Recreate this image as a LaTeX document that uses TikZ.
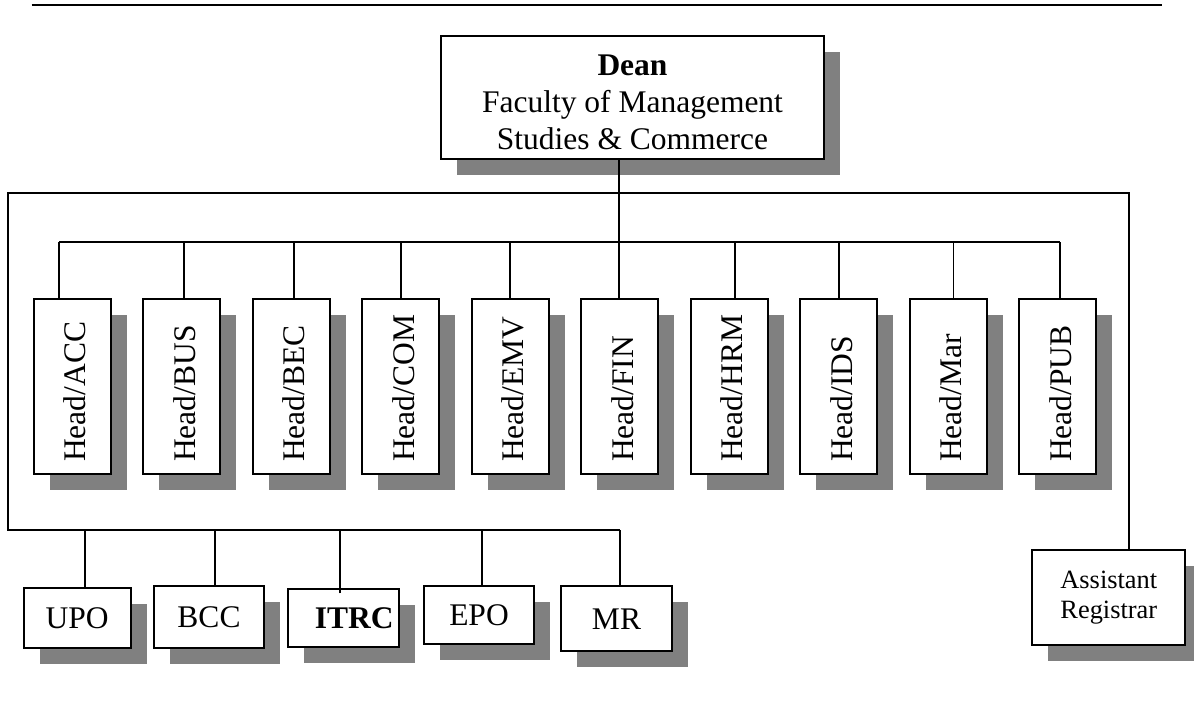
\documentclass[tikz,border=0pt]{standalone}
\usepackage{fontspec}
\setmainfont{Liberation Serif}
\usetikzlibrary{shadows,calc}
\begin{document}
\begin{tikzpicture}[x=1pt,y=-1pt,
  orgbox/.style={draw=black, line width=1.8pt, fill=white, inner sep=0pt,
    drop shadow={shadow xshift=16pt,shadow yshift=-16pt,fill=black!50,opacity=1}},
  conn/.style={line width=1.8pt},
  bigfont/.style={font=\fontsize{31.5}{37}\selectfont},
  deptbox/.style={orgbox, bigfont, minimum width=77pt, minimum height=175pt},
  unitbox/.style={orgbox, bigfont}]
\useasboundingbox (0,0) rectangle (1194,704);

% top rule
\draw[line width=2pt] (31.7,5) -- (1162,5);

% Dean
\node[orgbox, bigfont, minimum width=383pt, minimum height=123pt, align=center] (dean) at (632.5,97.5)
  {\rule{0pt}{30pt}\textbf{Dean}\\Faculty of Management\\Studies \& Commerce};

% departments
\coordinate (dbus) at (619.5,242.3);
\foreach \n/\t/\dx [count=\i from 0] in {acc/ACC/-12.9, bus/BUS/2.3, bec/BEC/2.7, com/COM/0, emv/EMV/0, fin/FIN/-0.4, hrm/HRM/5.7, ids/IDS/0.3, mar/Mar/5.3, pub/PUB/2.6}{
  \node[deptbox] (\n) at (72.2+109.5*\i,386.4)
    {\hspace*{6pt}\rotatebox{90}{\makebox[151pt][l]{Head/\t}}};
  \path (\n.north) ++(\dx,0) coordinate (t\n);
  \draw[conn] (t\n) -- (t\n |- dbus);
}
\draw[conn] (tacc |- dbus) -- (tpub |- dbus);
\draw[conn] (tfin |- dean.south) -- (tfin);

% bottom units
\node[unitbox, minimum width=107pt, minimum height=60.3pt] (upo) at (77.2,617.9) {UPO};
\node[unitbox, minimum width=110.6pt, minimum height=61.7pt] (bcc) at (209,617.2) {BCC};
\node[unitbox, minimum width=111pt, minimum height=57.4pt] (itrc) at (343.8,618) {\hspace*{21pt}\textbf{ITRC}};
\node[unitbox, minimum width=110.6pt, minimum height=58pt] (epo) at (479,615.3) {EPO};
\node[unitbox, minimum width=111pt, minimum height=64.7pt] (mr) at (616.5,618.7) {MR};
\node[orgbox, font=\fontsize{26.4}{30}\selectfont, align=center, minimum width=153pt, minimum height=95.3pt] (ar) at (1108.8,597.7) {Assistant\\Registrar};

\path (upo.north) ++(8.1,0) coordinate (tupo);
\path (bcc.north) ++(5.7,0) coordinate (tbcc);
\path (itrc.north) ++(-4.1,0) coordinate (titrc);
\path (epo.north) ++(3.3,0) coordinate (tepo);
\path (mr.north) ++(3.5,0) coordinate (tmr);
\path (ar.north) ++(20.2,0) coordinate (tar);

\coordinate (loopTL) at (8.3,193.3);
\coordinate (loopBL) at (8.3,530);
\coordinate (loopTR) at (1129,193.3);

\draw[conn] (tmr |- loopBL) -- (loopBL) -- (loopTL) -- (loopTR) -- (tar);
\foreach \u in {upo,bcc,epo,mr}{
  \draw[conn] (t\u) -- (t\u |- loopBL);
}
\draw[conn] ([yshift=-5pt]titrc) -- (titrc |- loopBL);
\end{tikzpicture}
\end{document}
